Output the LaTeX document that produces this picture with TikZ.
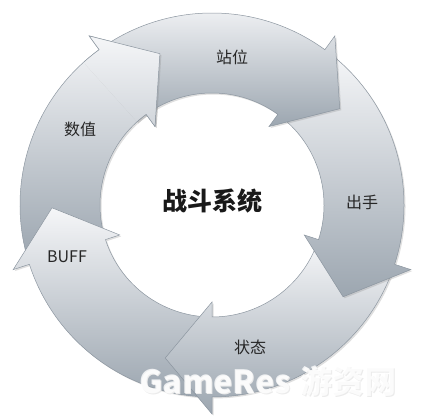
\documentclass[tikz,border=0pt]{standalone}
\usepackage{fontspec}
\newfontfamily\cjkfont{Noto Sans CJK SC}
\usetikzlibrary{shadows}
\definecolor{ringtop}{RGB}{245,246,248}
\definecolor{ringbottom}{RGB}{156,166,176}
\definecolor{ringedge}{RGB}{140,150,160}

% one arrow of the ring: #1 = tail angle, #2 = angle of the head base
\newcommand{\ringarrow}[2]{%
  (#1:192) arc[start angle=#1, end angle=#2, radius=192]
  -- (#2:209) -- (#2-17:160) -- (#2:97)
  -- (#2:112) arc[start angle=#2, end angle=#1, radius=112] -- cycle}

\begin{document}
\begin{tikzpicture}[x=1pt, y=1pt,
    ringpart/.style={draw=ringedge, line width=0.5pt,
        top color=ringtop, bottom color=ringbottom,
        drop shadow={opacity=0.25, shadow xshift=1.5pt, shadow yshift=-1.5pt}},
    steplabel/.style={font=\cjkfont\fontsize{16}{18}\selectfont, text=black!85},
    watermarktext/.style={font=\cjkfont\bfseries\fontsize{32}{34}\selectfont}
]
    \useasboundingbox (0,0) rectangle (434,418);

    % the ring of five arrows, clockwise
    \begin{scope}[shift={(212,213)}]
        \path[ringpart] \ringarrow{196}{126};   % shuzhi
        \path[ringpart] \ringarrow{-92}{-162};  % buff
        \path[ringpart] \ringarrow{-20}{-90};   % zhuangtai
        \path[ringpart] \ringarrow{52}{-18};    % chushou
        \path[ringpart] \ringarrow{124}{54};    % zhanwei
        % head of the first arrow lies on the last tail
        \begin{scope}
            \clip (0,0) -- (132:240) -- (118:240) -- (103:240) -- cycle;
            \path[ringpart] \ringarrow{196}{126};
        \end{scope}
    \end{scope}

    % labels
    \node[steplabel] (zhanwei) at (232,361) {站位};
    \node[steplabel] (chushou) at (362,216) {出手};
    \node[steplabel] (zhuangtai) at (250,71) {状态};
    \node[steplabel] (buff) at (67,161) {BUFF};
    \node[steplabel] (shuzhi) at (80,289) {数值};
    \node[font=\cjkfont\bfseries\fontsize{25}{27}\selectfont, text=black!90] (system) at (212,217) {战斗系统};

    % watermark
    \node[watermarktext, text=black!8] (markshadow) at (269,36) {GameRes\hspace{10pt}游资网};
    \node[watermarktext, text=white, opacity=0.8] (watermark) at (268,37) {GameRes\hspace{10pt}游资网};
\end{tikzpicture}
\end{document}
